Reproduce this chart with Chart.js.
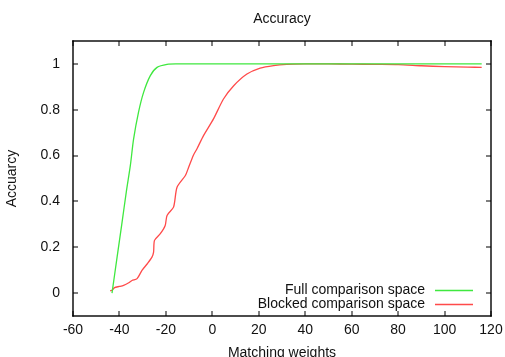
<!DOCTYPE html>
<html>
<head>
<meta charset="utf-8">
<script src="https://cdn.jsdelivr.net/npm/chart.js@4.4.1/dist/chart.umd.min.js"></script>
<style>
  html, body { margin: 0; padding: 0; background: #fff; }
  #wrap { width: 505px; height: 357px; }
</style>
</head>
<body>
<div id="wrap"><canvas id="c" width="505" height="357"></canvas></div>
<script>
// ---- data ----
const chartTitle = "Accuracy";
const xAxisTitle = "Matching weights";
const yAxisTitle = "Accuarcy";
const seriesNames = ["Full comparison space", "Blocked comparison space"];

const fullX = [-43.2, -41, -39, -37, -35.3, -33.9, -31.8, -29.6, -26.7, -23.8, -19.5, -15, 0, 20, 40, 60, 80, 100, 116];
const fullY = [0, 0.158, 0.30, 0.445, 0.557, 0.673, 0.789, 0.876, 0.949, 0.985, 0.998, 1.0, 1.0, 1.0, 1.0, 1.0, 1.0, 1.0, 1.0];

const blockedX = [-44, -43.2, -42.1, -40, -38.2, -36, -34.6, -32.4, -30.3, -28, -26, -25.3, -24.9, -22.4, -20.3, -19.5, -16.7, -15.2, -11.6, -10.2, -8.1, -6.6, -3.8, 0.5, 4.8, 9.2, 14.9, 20.6, 26.4, 32, 40, 50, 60, 70, 80, 90, 100, 110, 116];
const blockedY = [0.010, 0.012, 0.024, 0.029, 0.034, 0.045, 0.055, 0.063, 0.099, 0.128, 0.157, 0.179, 0.230, 0.259, 0.295, 0.339, 0.375, 0.462, 0.513, 0.549, 0.603, 0.630, 0.687, 0.760, 0.847, 0.905, 0.956, 0.982, 0.993, 0.998, 1.0, 1.0, 0.999, 0.998, 0.997, 0.992, 0.988, 0.986, 0.985];

const xTickValues = [-60, -40, -20, 0, 20, 40, 60, 80, 100, 120];
const yTickValues = [0, 0.2, 0.4, 0.6, 0.8, 1];

const colors = ["#3fe83f", "#ff4a4a"];
const FONT = "'Liberation Sans', Arial, sans-serif";
const TEXT = "#111";

function pts(xs, ys) { return xs.map((x, i) => ({ x: x, y: ys[i] })); }

// frame + inward (mirrored) ticks, gnuplot style
const framePlugin = {
  id: 'frame',
  afterDatasetsDraw(chart) {
    const { ctx, scales } = chart;
    const L = 5;
    const x0 = scales.x.getPixelForValue(-60), x1 = scales.x.getPixelForValue(120);
    const y0 = scales.y.getPixelForValue(-0.1), y1 = scales.y.getPixelForValue(1.1);
    const l = Math.round(x0), r = Math.round(x1);
    const t = Math.round(y1), b = Math.round(y0);
    ctx.save();
    ctx.fillStyle = "#000";
    scales.x.ticks.forEach(tk => {
      const px = Math.round(scales.x.getPixelForValue(tk.value));
      ctx.fillRect(px - 0.5, b - L, 1, L);
      ctx.fillRect(px - 0.5, t, 1, L);
    });
    scales.y.ticks.forEach(tk => {
      const py = Math.round(scales.y.getPixelForValue(tk.value));
      ctx.fillRect(l, py - 0.5, L, 1);
      ctx.fillRect(r - L, py - 0.5, L, 1);
    });
    ctx.fillRect(l - 0.7, t - 0.7, r - l + 1.4, 1.4);
    ctx.fillRect(l - 0.7, b - 0.7, r - l + 1.4, 1.4);
    ctx.fillRect(l - 0.7, t - 0.7, 1.4, b - t + 1.4);
    ctx.fillRect(r - 0.7, t - 0.7, 1.4, b - t + 1.4);
    ctx.restore();
  }
};

// legend inside bottom-right: right-aligned text, line sample on the right
const keyPlugin = {
  id: 'key',
  afterDraw(chart) {
    const { ctx } = chart;
    const textRight = 425, lineL = 435, lineR = 473;
    const rows = [290, 304];
    ctx.save();
    ctx.font = "14px " + FONT;
    ctx.fillStyle = TEXT;
    ctx.textAlign = "right";
    ctx.textBaseline = "middle";
    chart.data.datasets.forEach((ds, i) => {
      ctx.fillText(ds.label, textRight, rows[i]);
      ctx.strokeStyle = ds.borderColor;
      ctx.lineWidth = ds.borderWidth;
      ctx.beginPath();
      ctx.moveTo(lineL, rows[i] + 0.5);
      ctx.lineTo(lineR, rows[i] + 0.5);
      ctx.stroke();
    });
    ctx.restore();
  }
};

new Chart(document.getElementById('c'), {
  type: 'line',
  data: {
    datasets: [
      { label: seriesNames[0], data: pts(fullX, fullY), borderColor: colors[0], borderWidth: 1.3,
        pointRadius: 0, fill: false, tension: 0.3 },
      { label: seriesNames[1], data: pts(blockedX, blockedY), borderColor: colors[1], borderWidth: 1.3,
        pointRadius: 0, fill: false, tension: 0.25 }
    ]
  },
  options: {
    responsive: false,
    animation: false,
    devicePixelRatio: 1,
    layout: { padding: { left: 0, right: 14, top: 0, bottom: 0 } },
    plugins: {
      legend: { display: false },
      tooltip: { enabled: false },
      title: {
        display: true, text: chartTitle, fullSize: false, color: TEXT,
        font: { family: FONT, size: 14, weight: 'normal', lineHeight: 1.2 },
        padding: { top: 11, bottom: 13.2 }
      }
    },
    scales: {
      x: {
        type: 'linear', min: -60, max: 120,
        grid: { display: false, drawTicks: false },
        border: { display: false },
        afterBuildTicks: s => { s.ticks = xTickValues.map(v => ({ value: v })); },
        afterFit: s => { s.height = 41; s.paddingLeft = 0; s.paddingRight = 0; },
        ticks: { padding: 6, color: TEXT, font: { family: FONT, size: 14 }, maxRotation: 0,
                 callback: v => String(v) },
        title: { display: true, text: xAxisTitle, color: TEXT, padding: { top: 0, bottom: 0 },
                 font: { family: FONT, size: 14, lineHeight: 0.6 } }
      },
      y: {
        type: 'linear', min: -0.1, max: 1.1,
        grid: { display: false, drawTicks: false },
        border: { display: false },
        afterBuildTicks: s => { s.ticks = yTickValues.map(v => ({ value: v })); },
        afterFit: s => { s.width = 73; s.paddingTop = 0; s.paddingBottom = 0; },
        ticks: { padding: 13, color: TEXT, font: { family: FONT, size: 14 },
                 callback: v => String(v) },
        title: { display: true, text: yAxisTitle, color: TEXT, padding: { top: 4, bottom: 0 },
                 font: { family: FONT, size: 14, lineHeight: 1.2 } }
      }
    }
  },
  plugins: [framePlugin, keyPlugin]
});
</script>
</body>
</html>
